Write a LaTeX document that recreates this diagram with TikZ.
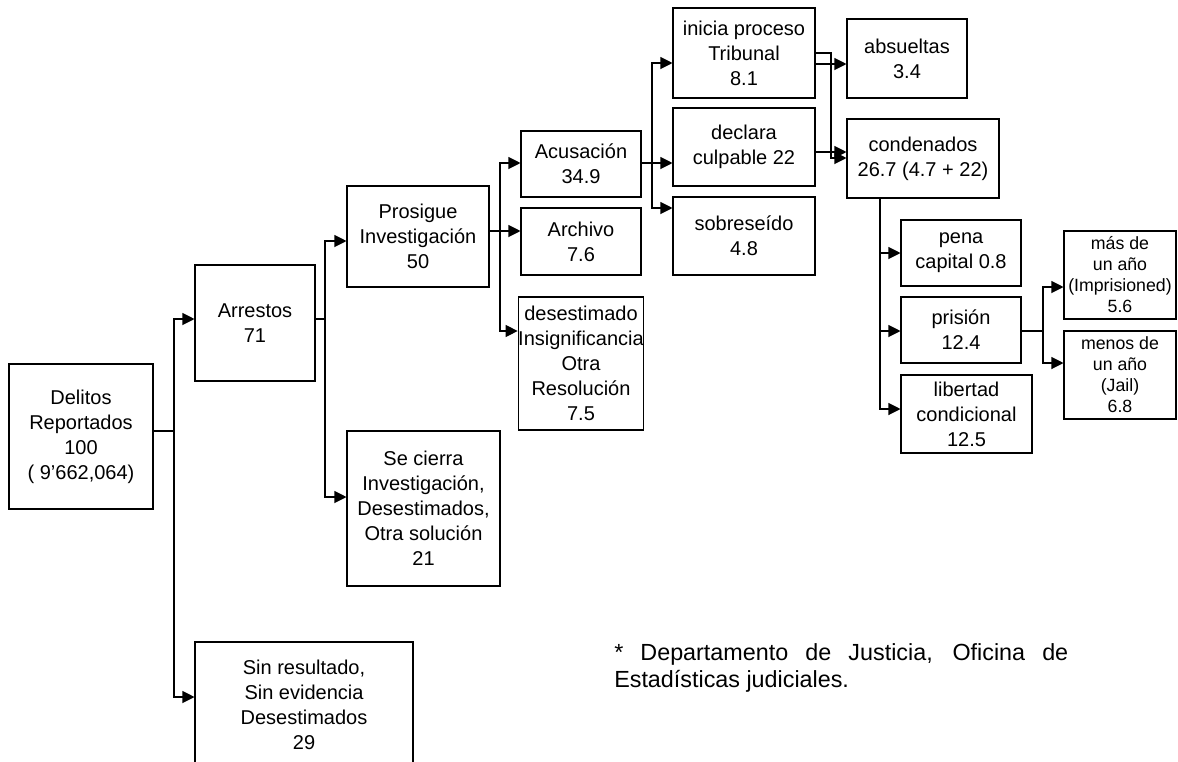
\documentclass[tikz,border=0pt]{standalone}
\usepackage{fontspec}
\setmainfont{Liberation Sans}
\usetikzlibrary{arrows.meta}
\begin{document}
\begin{tikzpicture}[x=0.75pt,y=-0.75pt,
  box/.style={draw, line width=0.8pt, inner sep=0pt, align=center, font=\fontsize{15}{18.75}\selectfont},
  sbox/.style={box, font=\fontsize{13.3}{15.75}\selectfont},
  sz/.style 2 args={minimum width=#1*0.75pt, minimum height=#2*0.75pt},
  ln/.style={line width=0.8pt},
  arr/.style={ln, -{Triangle[length=9pt,width=9pt]}}]
\clip (0,0) rectangle (1178,761);
% boxes
\node[box, sz={144}{145}] (del) at (81,436.5) {Delitos\\Reportados\\100\\( 9’662,064)};
\node[box, sz={120}{116}] (arr) at (255,323) {Arrestos\\71};
\node[box, sz={218}{126}] (sin) at (304,705) {Sin resultado,\\Sin evidencia\\Desestimados\\29};
\node[box, sz={142}{101}] (pro) at (418,236.5) {Prosigue\\Investigación\\50};
\node[box, sz={153}{155}] (cie) at (423.5,508.5) {Se cierra\\Investigación,\\Desestimados,\\Otra solución\\21};
\node[box, sz={120}{66}] (acu) at (581,164) {Acusación\\34.9};
\node[box, sz={120}{67}] (arc) at (581,241.5) {Archivo\\7.6};
\node[box, sz={120}{133}] (des) at (581,363.5) {desestimado\\Insignificancia\\Otra\\Resolución\\7.5};
\node[box, sz={142}{90}] (ini) at (744,53) {inicia proceso\\Tribunal\\8.1};
\node[box, sz={142}{78}] (dec) at (744,147) {declara\\culpable 22};
\node[box, sz={142}{78}] (sob) at (744,236) {sobreseído\\4.8};
\node[box, sz={120}{79}] (abs) at (907,58.5) {absueltas\\3.4};
\node[box, sz={152}{79}] (con) at (923,158.5) {condenados\\26.7 (4.7 + 22)};
\node[box, sz={120}{66}] (pen) at (961,253) {pena\\capital 0.8};
\node[box, sz={120}{66}] (pri) at (961,330) {prisión\\12.4};
\node[box, sz={131}{78}] (lib) at (966.5,414) {libertad\\condicional\\12.5};
\node[sbox, sz={112}{88}] (mas) at (1120,275) {más de\\un año\\(Imprisioned)\\5.6};
\node[sbox, sz={112}{88}] (men) at (1120,375) {menos de\\un año\\(Jail)\\6.8};
% footnote
\node[anchor=north west, inner sep=0pt, text width=340.5pt, align=justify,
      font=\fontsize{17.5}{20.25}\selectfont] (fn) at (614,643)
  {* Departamento de Justicia, Oficina de\linebreak Estadísticas judiciales.};
% junctions and levels
\coordinate (j1) at (174,431);
\coordinate (y319) at (0,319);
\coordinate (y697) at (0,697);
\coordinate (j2) at (325,319);
\coordinate (y241) at (0,241);
\coordinate (y497) at (0,497);
\coordinate (j3) at (500,231);
\coordinate (y163) at (0,163);
\coordinate (y331) at (0,331);
\coordinate (j4) at (652,163);
\coordinate (y63) at (0,63);
\coordinate (y208) at (0,208);
\coordinate (k1) at (831,53);
\coordinate (k2) at (831,158);
\coordinate (y64) at (0,64);
\coordinate (y152) at (0,152);
\coordinate (x880) at (880,0);
\coordinate (y253) at (0,253);
\coordinate (y409) at (0,409);
\coordinate (j6) at (1043,331);
\coordinate (y287) at (0,287);
\coordinate (y363) at (0,363);
% connectors
\draw[ln] (del.east|-j1) -- (j1);
\draw[arr] (j1) |- (arr.west|-y319);
\draw[arr] (j1) |- (sin.west|-y697);
\draw[ln] (arr.east|-j2) -- (j2);
\draw[arr] (j2) |- (pro.west|-y241);
\draw[arr] (j2) |- (cie.west|-y497);
\draw[arr] (pro.east|-j3) -- (arc.west|-j3);
\draw[arr] (j3) |- (acu.west|-y163);
\draw[arr] (j3) |- (des.west|-y331);
\draw[arr] (acu.east|-j4) -- (dec.west|-j4);
\draw[arr] (j4) |- (ini.west|-y63);
\draw[arr] (j4) |- (sob.west|-y208);
\draw[arr] (ini.east|-k1) -- (k1) -- (k2) -- (con.west|-k2);
\draw[arr] (ini.east|-y64) -- (abs.west|-y64);
\draw[arr] (dec.east|-y152) -- (con.west|-y152);
\draw[arr] (con.south-|x880) |- (pen.west|-y253);
\draw[arr] (con.south-|x880) |- (pri.west|-y331);
\draw[arr] (con.south-|x880) |- (lib.west|-y409);
\draw[ln] (pri.east|-j6) -- (j6);
\draw[arr] (j6) |- (mas.west|-y287);
\draw[arr] (j6) |- (men.west|-y363);
\end{tikzpicture}
\end{document}
